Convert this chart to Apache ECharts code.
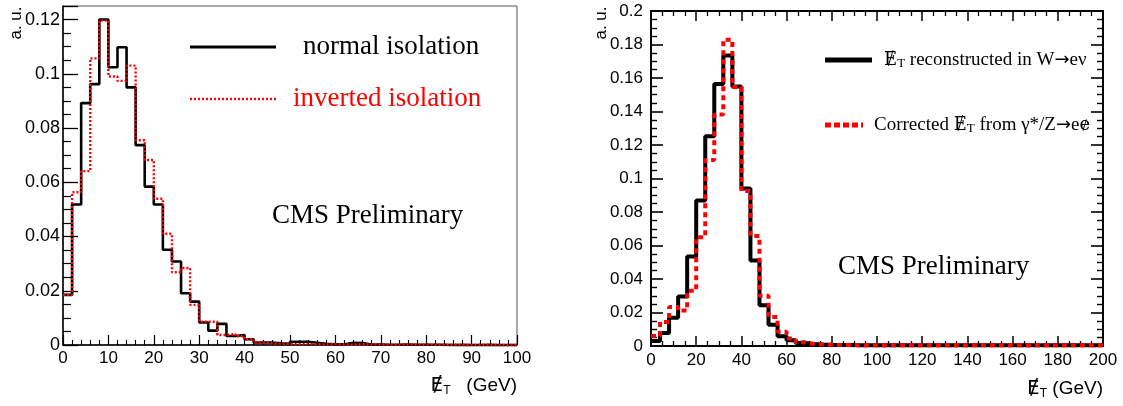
<!DOCTYPE html>
<html>
<head>
<meta charset="utf-8">
<script src="https://cdn.jsdelivr.net/npm/echarts@6/dist/echarts.min.js"></script>
<style>
  html, body { margin: 0; padding: 0; background: #ffffff; }
  #chart { width: 1123px; height: 406px; }
</style>
</head>
<body>
<div id="chart"></div>
<script>
// Left panel: missing ET, 2 GeV bins from 0 to 100 GeV
const leftBinWidth = 2;
const leftNormal = [
  0.0185, 0.0518, 0.0892, 0.0962, 0.1200, 0.1024, 0.1098, 0.0950, 0.0737, 0.0584,
  0.0518, 0.0351, 0.0308, 0.0191, 0.0160, 0.0083, 0.0053, 0.0078, 0.0033, 0.0037,
  0.0021, 0.0009, 0.0009, 0.0006, 0.0004, 0.0012, 0.0012, 0.0008, 0.0004, 0.0003,
  0.0003, 0.0008, 0.0007, 0.0002, 0.0002, 0.0001, 0.0001, 0.0002, 0.0001, 0.0001,
  0.0001, 0.0001, 0.0000, 0.0001, 0.0000, 0.0000, 0.0001, 0.0000, 0.0000, 0.0000
];
const leftInverted = [
  0.0185, 0.0563, 0.0641, 0.1057, 0.1196, 0.0990, 0.0974, 0.1030, 0.0755, 0.0682,
  0.0539, 0.0410, 0.0268, 0.0284, 0.0148, 0.0086, 0.0086, 0.0037, 0.0041, 0.0032,
  0.0021, 0.0009, 0.0006, 0.0005, 0.0004, 0.0003, 0.0005, 0.0003, 0.0002, 0.0003,
  0.0002, 0.0001, 0.0003, 0.0002, 0.0001, 0.0001, 0.0001, 0.0002, 0.0001, 0.0002,
  0.0001, 0.0000, 0.0001, 0.0000, 0.0000, 0.0001, 0.0000, 0.0000, 0.0000, 0.0000
];

// Right panel: missing ET, 4 GeV bins from 0 to 200 GeV
const rightBinWidth = 4;
const rightWenu = [
  0.0030, 0.0078, 0.0168, 0.0296, 0.0535, 0.0868, 0.1252, 0.1564, 0.1734, 0.1549,
  0.0941, 0.0511, 0.0243, 0.0127, 0.0058, 0.0035, 0.0018, 0.0012, 0.0009, 0.0007,
  0.0006, 0.0006, 0.0005, 0.0005, 0.0005, 0.0005, 0.0005, 0.0005, 0.0005, 0.0005,
  0.0005, 0.0005, 0.0005, 0.0005, 0.0005, 0.0005, 0.0005, 0.0005, 0.0005, 0.0005,
  0.0005, 0.0005, 0.0005, 0.0005, 0.0005, 0.0005, 0.0005, 0.0005, 0.0005, 0.0005
];
const rightZee = [
  0.0060, 0.0144, 0.0233, 0.0212, 0.0330, 0.0650, 0.1110, 0.1382, 0.1829, 0.1546,
  0.0925, 0.0657, 0.0300, 0.0173, 0.0085, 0.0045, 0.0022, 0.0012, 0.0009, 0.0007,
  0.0006, 0.0006, 0.0005, 0.0005, 0.0005, 0.0005, 0.0005, 0.0005, 0.0005, 0.0005,
  0.0005, 0.0005, 0.0005, 0.0005, 0.0005, 0.0005, 0.0005, 0.0005, 0.0005, 0.0005,
  0.0005, 0.0005, 0.0005, 0.0005, 0.0005, 0.0005, 0.0005, 0.0005, 0.0005, 0.0005
];

const leftXTicks = { min: 0, max: 100, interval: 10 };
const leftYTicks = { min: 0, max: 0.125, interval: 0.02 };
const rightXTicks = { min: 0, max: 200, interval: 20 };
const rightYTicks = { min: 0, max: 0.2, interval: 0.02 };

// Turn per-bin contents into step-line points: each bin's left edge, plus the final right edge.
function histPoints(values, width) {
  const pts = values.map((v, i) => [i * width, v]);
  pts.push([values.length * width, values[values.length - 1]]);
  return pts;
}

const SANS = 'Liberation Sans, Arial, sans-serif';
const SERIF = 'Liberation Serif, Times New Roman, serif';
const SLASH_SANS = 'DejaVu Sans, sans-serif';
const SLASH_SERIF = 'DejaVu Serif, serif';

function yLabel(v) {
  const r = Math.round(v / 0.02);
  if (Math.abs(v - r * 0.02) > 1e-9) return '';
  return String(+(r * 0.02).toFixed(2));
}

function valueAxis(range, extra) {
  return Object.assign({
    type: 'value',
    min: range.min,
    max: range.max,
    interval: range.interval,
    splitLine: { show: false },
    axisLine: { show: true, onZero: false, lineStyle: { color: '#000', width: 1.5 } },
    axisLabel: { color: '#000', fontFamily: SANS, fontSize: 17 },
    axisTick: { show: true, inside: true, length: 12, lineStyle: { color: '#000', width: 1.3 } },
    minorTick: { show: true, splitNumber: 5, length: 6, lineStyle: { color: '#000', width: 1.2 } }
  }, extra);
}

// Slashed E with subscript T followed by the unit, right-aligned at (x, y)
function metTitle(x, y, gap) {
  return {
    type: 'text', x: x, y: y,
    style: {
      text: '{e|\u0246}{t|T}{g|' + gap + '(GeV)}', align: 'right', verticalAlign: 'middle',
      rich: {
        e: { fill: '#000', fontFamily: SLASH_SANS, fontSize: 20 },
        t: { fill: '#000', fontFamily: SANS, fontSize: 12, padding: [10, 0, 0, 0] },
        g: { fill: '#000', fontFamily: SANS, fontSize: 19 }
      }
    }
  };
}

const legendRich = {
  e: { fill: '#000', fontFamily: SLASH_SERIF, fontSize: 18 },
  t: { fill: '#000', fontFamily: SERIF, fontSize: 13, padding: [8, 0, 0, 0] },
  r: { fill: '#000', fontFamily: SERIF, fontSize: 19 },
  a: { fill: '#000', fontFamily: SLASH_SANS, fontSize: 18 }
};

const chart = echarts.init(document.getElementById('chart'), null, { renderer: 'canvas' });

const option = {
  animation: false,
  backgroundColor: '#ffffff',
  grid: [
    { left: 63, top: 6, width: 454, height: 339, containLabel: false, outerBoundsMode: 'none',
      show: true, borderColor: '#555', borderWidth: 1 },
    { left: 651, top: 11, width: 452, height: 335, containLabel: false, outerBoundsMode: 'none',
      show: true, borderColor: '#000', borderWidth: 1.5 }
  ],
  xAxis: [
    valueAxis(leftXTicks, {
      gridIndex: 0, position: 'bottom',
      axisTick: { show: true, inside: true, length: 10, lineStyle: { color: '#000', width: 1.2 } },
      minorTick: { show: true, splitNumber: 5, length: 5, lineStyle: { color: '#000', width: 1.1 } },
      axisLabel: { color: '#000', fontFamily: SANS, fontSize: 17, margin: 5 }
    }),
    valueAxis(rightXTicks, {
      gridIndex: 1, position: 'bottom',
      axisLine: { show: true, onZero: false, lineStyle: { color: '#000', width: 2 } },
      axisTick: { show: true, inside: true, length: 10, lineStyle: { color: '#000', width: 1.5 } },
      minorTick: { show: true, splitNumber: 4, length: 5, lineStyle: { color: '#000', width: 1.3 } },
      axisLabel: { color: '#000', fontFamily: SANS, fontSize: 17, margin: 6 }
    }),
    valueAxis(rightXTicks, {
      gridIndex: 1, position: 'top',
      axisLine: { show: true, onZero: false, lineStyle: { color: '#000', width: 2 } },
      axisTick: { show: true, inside: true, length: 10, lineStyle: { color: '#000', width: 1.5 } },
      minorTick: { show: true, splitNumber: 4, length: 5, lineStyle: { color: '#000', width: 1.3 } },
      axisLabel: { show: false }
    })
  ],
  yAxis: [
    valueAxis(leftYTicks, {
      gridIndex: 0, position: 'left',
      axisTick: { show: true, inside: true, length: 15, lineStyle: { color: '#000', width: 1.3 } },
      minorTick: { show: true, splitNumber: 4, length: 8, lineStyle: { color: '#000', width: 1.2 } },
      axisLabel: { color: '#000', fontFamily: SANS, fontSize: 18, margin: 3, formatter: yLabel }
    }),
    valueAxis(rightYTicks, {
      gridIndex: 1, position: 'left',
      axisLine: { show: true, onZero: false, lineStyle: { color: '#000', width: 2 } },
      axisTick: { show: true, inside: true, length: 12, lineStyle: { color: '#000', width: 1.6 } },
      minorTick: { show: true, splitNumber: 4, length: 6, lineStyle: { color: '#000', width: 1.4 } },
      axisLabel: { color: '#000', fontFamily: SANS, fontSize: 17, margin: 8, formatter: yLabel }
    }),
    valueAxis(rightYTicks, {
      gridIndex: 1, position: 'right',
      axisLine: { show: true, onZero: false, lineStyle: { color: '#000', width: 2 } },
      axisTick: { show: true, inside: true, length: 12, lineStyle: { color: '#000', width: 1.6 } },
      minorTick: { show: true, splitNumber: 4, length: 6, lineStyle: { color: '#000', width: 1.4 } },
      axisLabel: { show: false }
    })
  ],
  series: [
    {
      name: 'normal isolation', type: 'line', step: 'end', symbol: 'none', clip: false,
      xAxisIndex: 0, yAxisIndex: 0,
      data: histPoints(leftNormal, leftBinWidth),
      lineStyle: { color: '#000', width: 2.6 }, z: 3
    },
    {
      name: 'inverted isolation', type: 'line', step: 'end', symbol: 'none', clip: false,
      xAxisIndex: 0, yAxisIndex: 0,
      data: histPoints(leftInverted, leftBinWidth),
      lineStyle: { color: '#ff0000', width: 2.4, type: [2, 2] }, z: 4
    },
    {
      name: 'W→eν', type: 'line', step: 'end', symbol: 'none', clip: false,
      xAxisIndex: 1, yAxisIndex: 1,
      data: histPoints(rightWenu, rightBinWidth),
      lineStyle: { color: '#000', width: 4 }, z: 3
    },
    {
      name: 'γ*/Z→ee', type: 'line', step: 'end', symbol: 'none', clip: false,
      xAxisIndex: 1, yAxisIndex: 1,
      data: histPoints(rightZee, rightBinWidth),
      lineStyle: { color: '#ff0000', width: 4, type: [5, 4] }, z: 4
    }
  ],
  graphic: [
    // axis titles
    { type: 'text', x: 16, y: 23, rotation: Math.PI / 2,
      style: { text: 'a. u.', fill: '#000', font: '17px ' + SANS, align: 'center', verticalAlign: 'middle' } },
    { type: 'text', x: 601, y: 23, rotation: Math.PI / 2,
      style: { text: 'a. u.', fill: '#000', font: '17px ' + SANS, align: 'center', verticalAlign: 'middle' } },
    metTitle(517, 386, '   '),
    metTitle(1103, 389, ' '),

    // left legend
    { type: 'line', shape: { x1: 190, y1: 47, x2: 276, y2: 47 },
      style: { stroke: '#000', lineWidth: 3 } },
    { type: 'text', x: 303, y: 47,
      style: { text: 'normal isolation', fill: '#000', font: '27px ' + SERIF, verticalAlign: 'middle' } },
    { type: 'line', shape: { x1: 190, y1: 99, x2: 276, y2: 99 },
      style: { stroke: '#ff0000', lineWidth: 2.4, lineDash: [2, 2] } },
    { type: 'text', x: 293, y: 99,
      style: { text: 'inverted isolation', fill: '#ff0000', font: '27px ' + SERIF, verticalAlign: 'middle' } },
    { type: 'text', x: 272, y: 216,
      style: { text: 'CMS Preliminary', fill: '#000', font: '27px ' + SERIF, verticalAlign: 'middle' } },

    // right legend
    { type: 'line', shape: { x1: 825, y1: 60, x2: 872, y2: 60 },
      style: { stroke: '#000', lineWidth: 5 } },
    { type: 'text', x: 884, y: 60,
      style: {
        text: '{e|\u0246}{t|T}{r| reconstructed in W}{a|\u2192}{r|e\u03bd}', verticalAlign: 'middle',
        rich: legendRich
      } },
    { type: 'line', shape: { x1: 825, y1: 125, x2: 863, y2: 125 },
      style: { stroke: '#ff0000', lineWidth: 5, lineDash: [6, 3] } },
    { type: 'text', x: 874, y: 125,
      style: {
        text: '{r|Corrected }{e|\u0246}{t|T}{r| from \u03b3*/Z}{a|\u2192}{r|e}{e|\u0247}', verticalAlign: 'middle',
        rich: legendRich
      } },
    { type: 'text', x: 838, y: 267,
      style: { text: 'CMS Preliminary', fill: '#000', font: '27px ' + SERIF, verticalAlign: 'middle' } }
  ]
};

chart.setOption(option);
</script>
</body>
</html>
